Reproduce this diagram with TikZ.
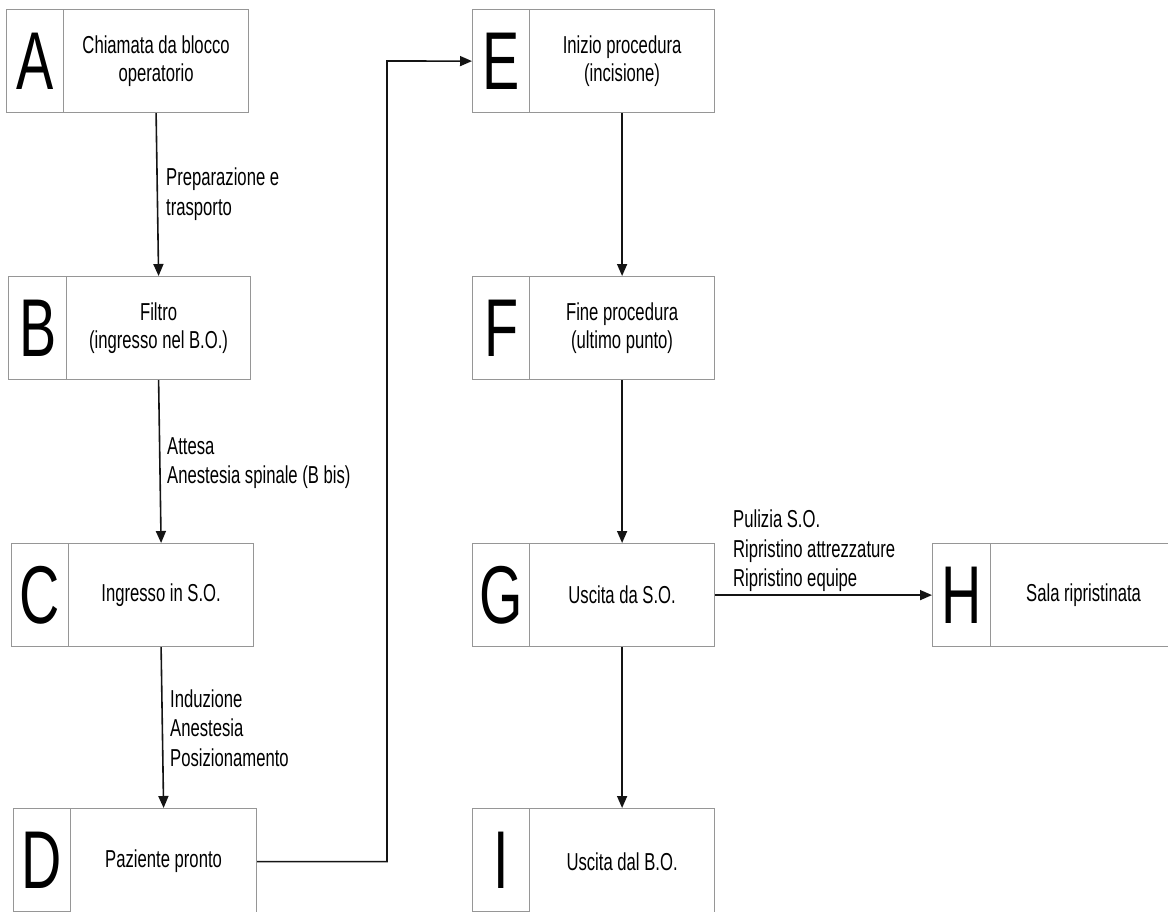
\documentclass[tikz,border=0pt]{standalone}
\usepackage{fontspec}
\newfontfamily\nar[FakeStretch=0.68]{Liberation Sans}
\usetikzlibrary{arrows.meta}
\definecolor{boxgray}{RGB}{150,150,150}
\definecolor{ink}{RGB}{20,20,20}
\tikzset{
  box/.style={draw=boxgray, line width=1.2pt, inner sep=0pt, anchor=north west,
    align=center, minimum height=103pt, font=\nar\fontsize{24.5}{28.5}\selectfont},
  letterbox/.style={box, minimum width=57pt, font=\nar\fontsize{82}{82}\selectfont},
  mainbox/.style={box, minimum width=185pt},
  conn/.style={draw=ink, line width=1.6pt, -{Triangle[length=12pt,width=10pt]}},
  lbl/.style={anchor=west, align=left, inner sep=0pt, font=\nar\fontsize{24.5}{29.5}\selectfont}
}
\begin{document}
\begin{tikzpicture}[x=1pt,y=-1pt]
\useasboundingbox (0,0) rectangle (1168,911);
% left column
\node[letterbox] (Al) at (6,9) {A};
\node[mainbox, minimum width=185pt] (A) at (63,9) {Chiamata da blocco\\operatorio};
\node[letterbox, minimum width=58pt] (Bl) at (8,276) {B};
\node[mainbox, minimum width=184pt] (B) at (66,276) {Filtro\\(ingresso nel B.O.)};
\node[letterbox] (Cl) at (11,543) {C};
\node[mainbox] (C) at (68,543) {Ingresso in S.O.};
\node[letterbox] (Dl) at (13,808) {D};
\node[mainbox, minimum width=186pt, minimum height=106pt] (D) at (70,808) {Paziente pronto};
% middle column
\node[letterbox] (El) at (472,9) {E};
\node[mainbox] (E) at (529,9) {Inizio procedura\\(incisione)};
\node[letterbox] (Fl) at (472,276) {F};
\node[mainbox] (F) at (529,276) {Fine procedura\\(ultimo punto)};
\node[letterbox] (Gl) at (472,543) {G};
\node[mainbox] (G) at (529,543) {Uscita da S.O.};
\node[letterbox] (Il) at (472,808) {I};
\node[mainbox, minimum height=106pt] (I) at (529,808) {Uscita dal B.O.};
% right
\node[letterbox, minimum width=58pt] (Hl) at (932,543) {H};
\node[mainbox, minimum width=186pt] (H) at (990,543) {Sala ripristinata};
% connectors
\draw[conn] (A.south) -- (B.north);
\draw[conn] (B.south) -- (C.north);
\draw[conn] (C.south) -- (D.north);
\coordinate (bend) at (387,61);
\draw[conn] (D.east) -| (bend) -- (El.west);
\draw[conn] (E.south) -- (F.north);
\draw[conn] (F.south) -- (G.north);
\draw[conn] (G.south) -- (I.north);
\draw[conn] (G.east) -- (Hl.west);
% labels
\node[lbl] (lab1) at (166,194) {Preparazione e\\trasporto};
\node[lbl] (lab2) at (167,463) {Attesa\\Anestesia spinale (B bis)};
\node[lbl] (lab3) at (170,728) {Induzione\\Anestesia\\Posizionamento};
\node[lbl] (lab4) at (733,551) {Pulizia S.O.\\Ripristino attrezzature\\Ripristino equipe};
\end{tikzpicture}
\end{document}
